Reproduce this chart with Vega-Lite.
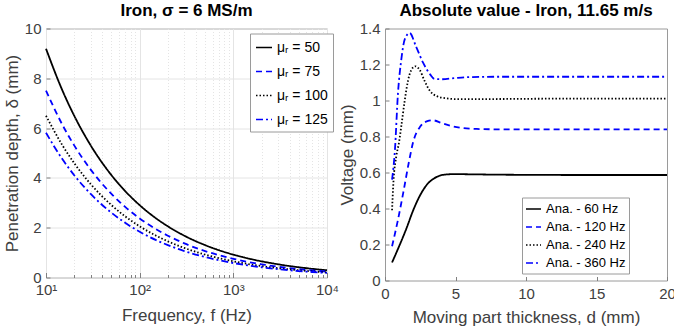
{
  "$schema": "https://vega.github.io/schema/vega-lite/v6.json",
  "background": "white",
  "padding": {"left": 2, "top": 0.5, "right": 5, "bottom": 2},
  "bounds": "flush",
  "spacing": 58,
  "resolve": {"scale": {"color": "independent", "strokeDash": "independent"}, "legend": {"color": "independent", "strokeDash": "independent"}},
  "config": {
    "font": "Liberation Sans",
    "view": {"stroke": "#9a9a9a", "strokeWidth": 1},
    "axis": {
      "labelFont": "Liberation Sans", "labelFontSize": 15, "labelColor": "#404040",
      "titleFont": "Liberation Sans", "titleFontSize": 17, "titleFontWeight": "normal", "titleColor": "#404040",
      "domain": false, "tickColor": "#808080", "tickSize": -4, "labelPadding": 9,
      "gridColor": "#e4e4e4", "labelFlush": false, "labelOverlap": false
    },
    "title": {"font": "Liberation Sans", "fontSize": 17, "fontWeight": "bold", "color": "#000000", "offset": 2},
    "legend": {
      "labelFont": "Liberation Sans", "labelColor": "#000000", "strokeColor": "#9a9a9a", "fillColor": "white",
      "symbolType": "stroke", "symbolStrokeWidth": 1.5, "padding": 5
    }
  },
  "hconcat": [
    {
      "width": 281, "height": 249,
      "title": "Iron, σ = 6 MS/m",
      "data": {"values": [
        {"f":10,"m":"μᵣ = 50","d":9.189},{"f":15,"m":"μᵣ = 50","d":7.503},{"f":20,"m":"μᵣ = 50","d":6.498},{"f":30,"m":"μᵣ = 50","d":5.305},{"f":50,"m":"μᵣ = 50","d":4.109},{"f":70,"m":"μᵣ = 50","d":3.473},{"f":100,"m":"μᵣ = 50","d":2.906},{"f":150,"m":"μᵣ = 50","d":2.373},{"f":200,"m":"μᵣ = 50","d":2.055},{"f":300,"m":"μᵣ = 50","d":1.678},{"f":500,"m":"μᵣ = 50","d":1.300},{"f":700,"m":"μᵣ = 50","d":1.098},{"f":1000,"m":"μᵣ = 50","d":0.919},{"f":1500,"m":"μᵣ = 50","d":0.750},{"f":2000,"m":"μᵣ = 50","d":0.650},{"f":3000,"m":"μᵣ = 50","d":0.531},{"f":5000,"m":"μᵣ = 50","d":0.411},{"f":7000,"m":"μᵣ = 50","d":0.347},{"f":10000,"m":"μᵣ = 50","d":0.291},
        {"f":10,"m":"μᵣ = 75","d":7.503},{"f":15,"m":"μᵣ = 75","d":6.126},{"f":20,"m":"μᵣ = 75","d":5.305},{"f":30,"m":"μᵣ = 75","d":4.332},{"f":50,"m":"μᵣ = 75","d":3.355},{"f":70,"m":"μᵣ = 75","d":2.836},{"f":100,"m":"μᵣ = 75","d":2.373},{"f":150,"m":"μᵣ = 75","d":1.937},{"f":200,"m":"μᵣ = 75","d":1.678},{"f":300,"m":"μᵣ = 75","d":1.370},{"f":500,"m":"μᵣ = 75","d":1.061},{"f":700,"m":"μᵣ = 75","d":0.897},{"f":1000,"m":"μᵣ = 75","d":0.750},{"f":1500,"m":"μᵣ = 75","d":0.613},{"f":2000,"m":"μᵣ = 75","d":0.531},{"f":3000,"m":"μᵣ = 75","d":0.433},{"f":5000,"m":"μᵣ = 75","d":0.336},{"f":7000,"m":"μᵣ = 75","d":0.284},{"f":10000,"m":"μᵣ = 75","d":0.237},
        {"f":10,"m":"μᵣ = 100","d":6.497},{"f":15,"m":"μᵣ = 100","d":5.305},{"f":20,"m":"μᵣ = 100","d":4.594},{"f":30,"m":"μᵣ = 100","d":3.751},{"f":50,"m":"μᵣ = 100","d":2.906},{"f":70,"m":"μᵣ = 100","d":2.456},{"f":100,"m":"μᵣ = 100","d":2.055},{"f":150,"m":"μᵣ = 100","d":1.678},{"f":200,"m":"μᵣ = 100","d":1.453},{"f":300,"m":"μᵣ = 100","d":1.186},{"f":500,"m":"μᵣ = 100","d":0.919},{"f":700,"m":"μᵣ = 100","d":0.777},{"f":1000,"m":"μᵣ = 100","d":0.650},{"f":1500,"m":"μᵣ = 100","d":0.531},{"f":2000,"m":"μᵣ = 100","d":0.459},{"f":3000,"m":"μᵣ = 100","d":0.375},{"f":5000,"m":"μᵣ = 100","d":0.291},{"f":7000,"m":"μᵣ = 100","d":0.246},{"f":10000,"m":"μᵣ = 100","d":0.205},
        {"f":10,"m":"μᵣ = 125","d":5.812},{"f":15,"m":"μᵣ = 125","d":4.745},{"f":20,"m":"μᵣ = 125","d":4.109},{"f":30,"m":"μᵣ = 125","d":3.355},{"f":50,"m":"μᵣ = 125","d":2.599},{"f":70,"m":"μᵣ = 125","d":2.197},{"f":100,"m":"μᵣ = 125","d":1.838},{"f":150,"m":"μᵣ = 125","d":1.501},{"f":200,"m":"μᵣ = 125","d":1.300},{"f":300,"m":"μᵣ = 125","d":1.061},{"f":500,"m":"μᵣ = 125","d":0.822},{"f":700,"m":"μᵣ = 125","d":0.695},{"f":1000,"m":"μᵣ = 125","d":0.581},{"f":1500,"m":"μᵣ = 125","d":0.475},{"f":2000,"m":"μᵣ = 125","d":0.411},{"f":3000,"m":"μᵣ = 125","d":0.336},{"f":5000,"m":"μᵣ = 125","d":0.260},{"f":7000,"m":"μᵣ = 125","d":0.220},{"f":10000,"m":"μᵣ = 125","d":0.184}
      ]},
      "mark": {"type": "line", "strokeWidth": 1.8, "interpolate": "monotone"},
      "encoding": {
        "x": {"field": "f", "type": "quantitative",
          "scale": {"type": "log", "domain": [10, 10000], "nice": false},
          "axis": {
            "title": "Frequency, f (Hz)",
            "values": [10,20,30,40,50,60,70,80,90,100,200,300,400,500,600,700,800,900,1000,2000,3000,4000,5000,6000,7000,8000,9000,10000],
            "labelExpr": "datum.value==10?'10¹':datum.value==100?'10²':datum.value==1000?'10³':datum.value==10000?'10⁴':''",
            "grid": true,
            "gridDash": {"condition": {"test": "datum.value==10||datum.value==100||datum.value==1000||datum.value==10000", "value": []}, "value": [1, 2]},
            "tickSize": {"condition": {"test": "datum.value==10||datum.value==100||datum.value==1000||datum.value==10000", "value": -5}, "value": -3},
            "labelPadding": 10, "titlePadding": 8
          }
        },
        "y": {"field": "d", "type": "quantitative",
          "scale": {"domain": [0, 10], "nice": false},
          "axis": {"title": "Penetration depth, δ (mm)", "values": [0,2,4,6,8,10], "grid": true, "titlePadding": 3}
        },
        "color": {"field": "m", "type": "nominal",
          "scale": {"domain": ["μᵣ = 50","μᵣ = 75","μᵣ = 100","μᵣ = 125"], "range": ["#000000","#0000ff","#000000","#0000ff"]},
          "legend": {"title": null, "orient": "none", "legendX": 204, "legendY": 5, "labelFontSize": 14, "symbolSize": 256, "rowPadding": 8}
        },
        "strokeDash": {"field": "m", "type": "nominal",
          "scale": {"domain": ["μᵣ = 50","μᵣ = 75","μᵣ = 100","μᵣ = 125"], "range": [[1,0],[6,4],[1.5,2],[7,3,2,3]]},
          "legend": {"title": null, "orient": "none", "legendX": 204, "legendY": 5, "labelFontSize": 14, "symbolSize": 256, "rowPadding": 8}
        }
      }
    },
    {
      "width": 282, "height": 252,
      "title": "Absolute value -  Iron, 11.65 m/s",
      "data": {"values": [
        {"x":0.5,"s":"Ana. - 60 Hz","v":0.10},{"x":1.0,"s":"Ana. - 60 Hz","v":0.19},{"x":1.5,"s":"Ana. - 60 Hz","v":0.285},{"x":2.0,"s":"Ana. - 60 Hz","v":0.39},{"x":2.5,"s":"Ana. - 60 Hz","v":0.475},{"x":3.0,"s":"Ana. - 60 Hz","v":0.535},{"x":3.5,"s":"Ana. - 60 Hz","v":0.568},{"x":4.0,"s":"Ana. - 60 Hz","v":0.585},{"x":4.5,"s":"Ana. - 60 Hz","v":0.59},{"x":5,"s":"Ana. - 60 Hz","v":0.591},{"x":6,"s":"Ana. - 60 Hz","v":0.59},{"x":8,"s":"Ana. - 60 Hz","v":0.588},{"x":10,"s":"Ana. - 60 Hz","v":0.587},{"x":15,"s":"Ana. - 60 Hz","v":0.586},{"x":20,"s":"Ana. - 60 Hz","v":0.586},
        {"x":0.5,"s":"Ana. - 120 Hz","v":0.19},{"x":0.9,"s":"Ana. - 120 Hz","v":0.33},{"x":1.3,"s":"Ana. - 120 Hz","v":0.49},{"x":1.7,"s":"Ana. - 120 Hz","v":0.66},{"x":2.0,"s":"Ana. - 120 Hz","v":0.77},{"x":2.5,"s":"Ana. - 120 Hz","v":0.855},{"x":3.0,"s":"Ana. - 120 Hz","v":0.885},{"x":3.4,"s":"Ana. - 120 Hz","v":0.89},{"x":4.0,"s":"Ana. - 120 Hz","v":0.875},{"x":4.6,"s":"Ana. - 120 Hz","v":0.86},{"x":5.5,"s":"Ana. - 120 Hz","v":0.847},{"x":6.5,"s":"Ana. - 120 Hz","v":0.842},{"x":8,"s":"Ana. - 120 Hz","v":0.84},{"x":12,"s":"Ana. - 120 Hz","v":0.84},{"x":20,"s":"Ana. - 120 Hz","v":0.84},
        {"x":0.5,"s":"Ana. - 240 Hz","v":0.39},{"x":0.6,"s":"Ana. - 240 Hz","v":0.55},{"x":0.8,"s":"Ana. - 240 Hz","v":0.69},{"x":1.0,"s":"Ana. - 240 Hz","v":0.77},{"x":1.16,"s":"Ana. - 240 Hz","v":0.86},{"x":1.4,"s":"Ana. - 240 Hz","v":1.0},{"x":1.63,"s":"Ana. - 240 Hz","v":1.11},{"x":1.87,"s":"Ana. - 240 Hz","v":1.17},{"x":2.15,"s":"Ana. - 240 Hz","v":1.19},{"x":2.46,"s":"Ana. - 240 Hz","v":1.17},{"x":2.8,"s":"Ana. - 240 Hz","v":1.11},{"x":3.17,"s":"Ana. - 240 Hz","v":1.055},{"x":3.64,"s":"Ana. - 240 Hz","v":1.025},{"x":4.35,"s":"Ana. - 240 Hz","v":1.012},{"x":5,"s":"Ana. - 240 Hz","v":1.008},{"x":7,"s":"Ana. - 240 Hz","v":1.008},{"x":12,"s":"Ana. - 240 Hz","v":1.01},{"x":20,"s":"Ana. - 240 Hz","v":1.01},
        {"x":0.5,"s":"Ana. - 360 Hz","v":0.56},{"x":0.7,"s":"Ana. - 360 Hz","v":0.72},{"x":0.92,"s":"Ana. - 360 Hz","v":1.04},{"x":1.16,"s":"Ana. - 360 Hz","v":1.23},{"x":1.4,"s":"Ana. - 360 Hz","v":1.34},{"x":1.75,"s":"Ana. - 360 Hz","v":1.375},{"x":2.2,"s":"Ana. - 360 Hz","v":1.30},{"x":2.7,"s":"Ana. - 360 Hz","v":1.21},{"x":3.2,"s":"Ana. - 360 Hz","v":1.145},{"x":3.5,"s":"Ana. - 360 Hz","v":1.12},{"x":4,"s":"Ana. - 360 Hz","v":1.118},{"x":5,"s":"Ana. - 360 Hz","v":1.125},{"x":6,"s":"Ana. - 360 Hz","v":1.13},{"x":8,"s":"Ana. - 360 Hz","v":1.132},{"x":20,"s":"Ana. - 360 Hz","v":1.132}
      ]},
      "mark": {"type": "line", "strokeWidth": 1.8, "interpolate": "monotone"},
      "encoding": {
        "x": {"field": "x", "type": "quantitative",
          "scale": {"domain": [0, 20], "nice": false},
          "axis": {"title": "Moving part thickness, d (mm)", "values": [0,5,10,15,20], "grid": false, "labelPadding": 10, "titlePadding": 8}
        },
        "y": {"field": "v", "type": "quantitative",
          "scale": {"domain": [0, 1.4], "nice": false},
          "axis": {"title": "Voltage (mm)", "values": [0,0.2,0.4,0.6,0.8,1,1.2,1.4], "format": "~g", "grid": false, "titlePadding": 3}
        },
        "color": {"field": "s", "type": "nominal",
          "scale": {"domain": ["Ana. - 60 Hz","Ana. - 120 Hz","Ana. - 240 Hz","Ana. - 360 Hz"], "range": ["#000000","#0000ff","#000000","#0000ff"]},
          "legend": {"title": null, "orient": "none", "legendX": 137, "legendY": 169, "labelFontSize": 13, "symbolSize": 225, "rowPadding": 2, "padding": 3}
        },
        "strokeDash": {"field": "s", "type": "nominal",
          "scale": {"domain": ["Ana. - 60 Hz","Ana. - 120 Hz","Ana. - 240 Hz","Ana. - 360 Hz"], "range": [[1,0],[6,4],[1.5,2],[7,3,2,3]]},
          "legend": {"title": null, "orient": "none", "legendX": 137, "legendY": 169, "labelFontSize": 13, "symbolSize": 225, "rowPadding": 2, "padding": 3}
        }
      }
    }
  ]
}
